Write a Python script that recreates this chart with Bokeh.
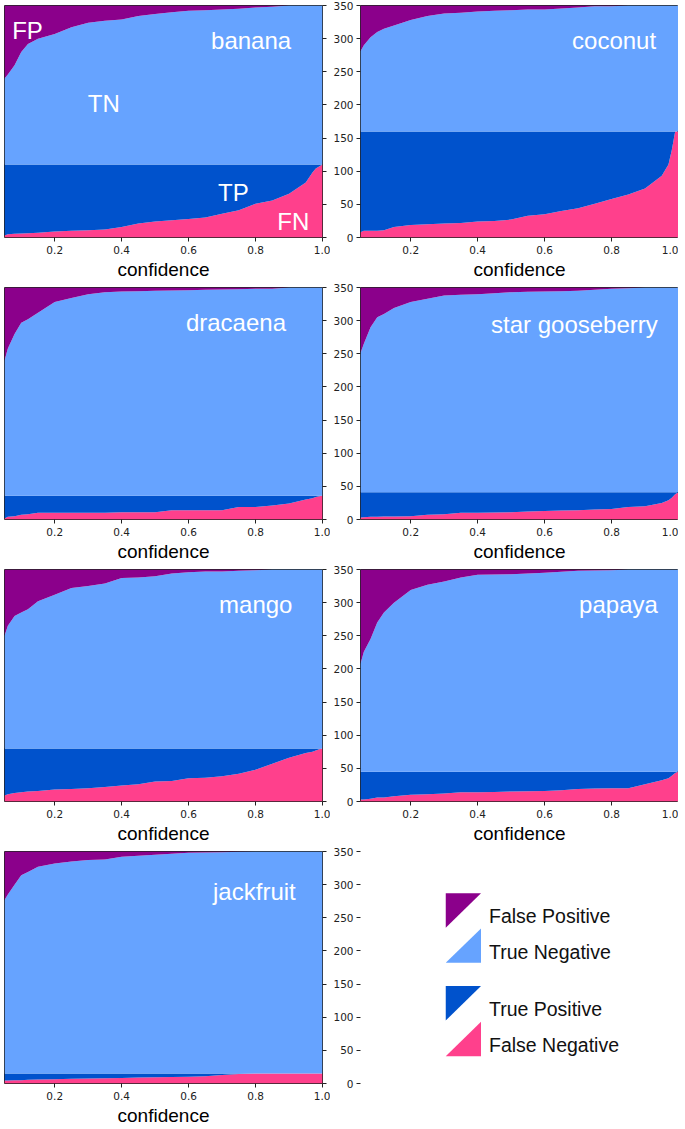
from bokeh.plotting import figure
from bokeh.layouts import row, column
from bokeh.models import (FixedTicker, PrintfTickFormatter, LinearAxis, Range1d,
                          CustomJSTickFormatter)
from bokeh.embed import file_html
from bokeh.resources import INLINE
from bokeh.core.properties import value

# ---------------- data ----------------
TOTAL = 350
conf = [0.05, 0.06, 0.08, 0.10, 0.12, 0.15, 0.20, 0.25, 0.30, 0.35, 0.40, 0.45, 0.50,
        0.55, 0.60, 0.65, 0.70, 0.75, 0.80, 0.85, 0.90, 0.95, 0.97, 0.98, 0.99, 1.00]

x_ticks = [0.2, 0.4, 0.6, 0.8, 1.0]
y_ticks = [0, 50, 100, 150, 200, 250, 300, 350]

names = ["banana", "coconut", "dracaena", "star gooseberry", "mango", "papaya", "jackfruit"]
positives = [110, 160, 36, 41, 80, 45, 15]

banana_fn = [3, 5, 5.5, 6, 6.5, 7, 9, 10, 11, 12, 16, 21, 24, 26, 28, 30, 36, 41, 51, 56,
             66, 83, 98, 104, 107, 110]
banana_upper = [240, 246, 260, 280, 292, 300, 307, 317, 324, 327, 329, 334, 337, 340, 342,
                343, 344, 345, 347, 348, 350, 350, 350, 350, 350, 350]

coconut_fn = [8, 10, 10, 10, 11, 16, 19, 20, 21, 22, 24, 25, 27, 33, 35, 40, 44, 51, 58, 65,
              74, 93, 110, 132, 160, 160]
coconut_upper = [281, 290, 302, 310, 315, 320, 328, 334, 338, 339, 341, 342, 343, 344, 344,
                 345.6, 347, 349, 349, 350, 350, 350, 350, 350, 350, 350]

dracaena_fn = [1.5, 4, 5, 7, 8, 10, 10, 10, 10, 10, 11, 11, 11, 14, 14, 14, 14, 19, 19, 21,
               24, 30, 32, 34, 35, 36]
dracaena_upper = [240, 258, 280, 297, 302, 312, 328, 334, 340, 343, 344, 344.5, 345, 345.5,
                  346, 346.5, 347, 347.5, 348, 348, 350, 350, 350, 350, 350, 350]

star_fn = [3, 3.5, 4, 4, 4.5, 4.5, 5, 7, 8, 10, 10, 10.5, 11, 12, 13, 13.5, 14, 15, 16, 19,
           20, 25, 29, 33, 38, 41]
star_upper = [251, 265, 290, 305, 310, 319, 328, 333, 338, 339, 340, 341.5, 343, 343.5, 344,
              344.5, 345, 346.5, 348, 349, 350, 350, 350, 350, 350, 350]

mango_fn = [9, 11, 13, 14, 15, 16, 18, 19, 20, 22, 24, 26, 30, 31, 35, 36, 38, 42, 48, 57,
            66, 73, 75, 77, 79, 80]
mango_upper = [250, 265, 280, 285, 290, 302, 312, 322, 325, 329, 337, 338, 340, 344, 346,
               347, 347, 348, 349, 350, 350, 350, 350, 350, 350, 350]

papaya_fn = [3, 3, 4, 6, 6, 8, 10, 11, 12, 14, 14, 14.5, 15, 15.5, 16, 17, 19, 19.5, 20, 20,
             26, 32, 35, 39, 43, 45]
papaya_upper = [208, 226, 245, 270, 285, 300, 319, 327, 332, 338, 342, 342.5, 343, 344, 345,
                346.5, 348, 348.5, 349, 350, 350, 350, 350, 350, 350, 350]

jackfruit_fn = [4.5, 4.5, 5, 5, 5.5, 6, 6.4, 7, 7.4, 8, 8.4, 9, 9.4, 9.7, 10, 11, 13, 14.4,
                15, 15, 15, 15, 15, 15, 15, 15]
jackfruit_upper = [277, 285, 300, 314, 319, 327, 332, 335, 337, 338, 342, 343.5, 345, 346.5,
                   348, 348.5, 349, 349.5, 350, 350, 350, 350, 350, 350, 350, 350]

fn_series = [banana_fn, coconut_fn, dracaena_fn, star_fn, mango_fn, papaya_fn, jackfruit_fn]
upper_series = [banana_upper, coconut_upper, dracaena_upper, star_upper, mango_upper,
                papaya_upper, jackfruit_upper]

# label placement (data coords: left x, baseline y)
title_pos = [(0.667, 297), (0.682, 297), (0.592, 297), (0.44, 294), (0.691, 297),
             (0.703, 297), (0.673, 290)]
region_labels = ["FP", "TN", "TP", "FN"]
region_pos = [(0.073, 312), (0.299, 202), (0.688, 68), (0.865, 24)]

legend_labels = ["False Positive", "True Negative", "True Positive", "False Negative"]

# ---------------- style ----------------
C_FP = "#8b008b"
C_TN = "#66a3ff"
C_TP = "#0052cc"
C_FN = "#ff408c"
legend_colors = [C_FP, C_TN, C_TP, C_FN]

ROW_H = 282
FW = 318
TICK_FONT = "DejaVu Sans"
LABEL_FONT = "Liberation Sans"
TICK_SIZE = "10.5px"
TICK_COLOR = "#222222"


def base_figure(col):
    p = figure(frame_width=FW, height=ROW_H,
               x_range=Range1d(0.05, 1.0), y_range=Range1d(0, TOTAL),
               x_axis_location=None, y_axis_location=None,
               output_backend="svg", toolbar_location=None,
               min_border_top=5, min_border_bottom=0,
               min_border_left=4 if col == 0 else 27,
               min_border_right=8 if col == 0 else 0)
    p.grid.grid_line_color = None
    p.background_fill_color = "white"
    p.border_fill_color = "white"
    return p


def add_x_axis(p, visible=True):
    ax = LinearAxis(ticker=FixedTicker(ticks=x_ticks),
                    formatter=PrintfTickFormatter(format="%.1f"),
                    axis_label="confidence")
    ax.axis_line_color = None
    ax.major_tick_out = 4
    ax.major_tick_in = 0
    ax.minor_tick_line_color = None
    ax.major_label_text_font = TICK_FONT
    ax.major_label_text_font_size = TICK_SIZE
    ax.major_label_standoff = 4
    ax.axis_label_text_font = LABEL_FONT
    ax.axis_label_text_font_size = "19px"
    ax.axis_label_text_font_style = "normal"
    ax.axis_label_standoff = 2
    if visible:
        ax.major_tick_line_color = TICK_COLOR
        ax.major_label_text_color = TICK_COLOR
        ax.axis_label_text_color = "#000000"
    else:
        ax.major_tick_line_color = None
        ax.major_label_text_alpha = 0
        ax.axis_label_text_alpha = 0
    p.add_layout(ax, "below")


def add_y_axis(p, col):
    ax = LinearAxis(ticker=FixedTicker(ticks=y_ticks))
    ax.axis_line_color = None
    ax.major_tick_out = 4
    ax.major_tick_in = 0
    ax.minor_tick_line_color = None
    ax.major_tick_line_color = TICK_COLOR
    ax.major_label_text_font = TICK_FONT
    ax.major_label_text_font_size = TICK_SIZE
    ax.major_label_text_color = TICK_COLOR
    if col == 0:
        ax.formatter = CustomJSTickFormatter(code="return ''")
        ax.major_label_standoff = 0
        p.add_layout(ax, "right")
    else:
        ax.major_label_standoff = 3
        p.add_layout(ax, "left")


def make_panel(i):
    col = i % 2
    p = base_figure(col)
    P = positives[i]
    fn = fn_series[i]
    up = upper_series[i]
    n = len(conf)
    p.varea(x=conf, y1=[0] * n, y2=fn, fill_color=C_FN)
    p.varea(x=conf, y1=fn, y2=[P] * n, fill_color=C_TP)
    p.varea(x=conf, y1=[P] * n, y2=up, fill_color=C_TN)
    p.varea(x=conf, y1=up, y2=[TOTAL] * n, fill_color=C_FP)
    tx, ty = title_pos[i]
    p.text(x=[tx], y=[ty], text=[names[i]], text_color="white",
           text_font=value(LABEL_FONT), text_font_size="24px",
           text_align="left", text_baseline="alphabetic")
    if i == 0:
        p.text(x=[q[0] for q in region_pos], y=[q[1] for q in region_pos],
               text=region_labels, text_color="white",
               text_font=value(LABEL_FONT), text_font_size="24px",
               text_align="left", text_baseline="alphabetic")
    p.outline_line_color = "#222222"
    p.outline_line_width = 1
    add_x_axis(p, True)
    add_y_axis(p, col)
    return p


def make_legend():
    p = base_figure(1)
    p.x_range = Range1d(0, 1)
    p.outline_line_color = None
    add_x_axis(p, False)
    add_y_axis(p, 1)
    # legend layout in frame data units
    x0, x1 = 0.268, 0.379
    tri_h = 52
    tops = [287, 234, 147, 93]
    text_x = 0.404
    text_dy = 35
    for k in range(4):
        t = tops[k]
        b = t - tri_h
        if k % 2 == 0:
            xs = [x0, x1, x0]
            ys = [t, t, b]
        else:
            xs = [x1, x1, x0]
            ys = [t, b, b]
        p.patch(x=xs, y=ys, fill_color=legend_colors[k], line_color=None)
    p.text(x=[text_x] * 4, y=[t - text_dy for t in tops], text=legend_labels,
           text_color="#111111", text_font=value(LABEL_FONT), text_font_size="19.5px",
           text_align="left", text_baseline="alphabetic")
    return p


panels = [make_panel(i) for i in range(7)]
panels.append(make_legend())

rows = [row(panels[2 * r], panels[2 * r + 1], spacing=0) for r in range(4)]
layout = column(*rows, spacing=0)

open("out.html", "w").write(file_html(layout, INLINE))
